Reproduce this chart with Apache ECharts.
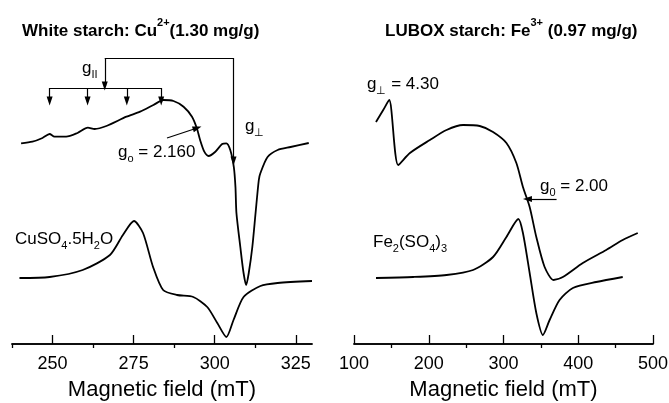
<!DOCTYPE html>
<html><head><meta charset="utf-8">
<script src="https://cdn.jsdelivr.net/npm/echarts@6/dist/echarts.min.js"></script>
<style>html,body{margin:0;padding:0;background:#fff}#c{width:669px;height:403px}</style>
</head><body><div id="c"></div>
<script>
// Left panel: White starch Cu2+ (field in mT, signal in arbitrary units)
const cuStarchField = [240.3,243.8,246.9,249.1,250.6,254.2,257.7,260.9,263.0,266.6,272.8,277.0,281.1,284.2,287.3,290.4,293.0,294.5,295.5,296.8,298.1,300.2,302.3,303.6,304.8,305.9,306.4,306.7,307.9,308.9,309.7,310.5,311.6,312.6,313.6,314.1,316.3,319.4,323.4,329.0];
const cuStarchSignal = [200.7,202.3,206,210,207.3,207.3,211,216.3,215,218,227.3,232.3,239,244,243,237.3,227.3,215.7,204,192.3,188,192.3,200,200.7,194,177,157,131,97,71,59,71,97,131,164,171,187,194,197,201];
const cuSulfateField = [239.8,249.1,259.3,267.7,271.7,275.1,277.9,281.0,284.1,288.4,293.4,297.7,300.8,303.6,305.8,308.9,314.1,319.4,330.0];
const cuSulfateSignal = [66,67,74,89,109,123,111,77,54,49,47,37,21,7,24,47,58,61,63];
// Right panel: LUBOX starch Fe3+
const feStarchField = [129.4,139.1,147.1,159.1,174.8,201.5,223.8,245.9,268.2,286.0,303.9,317.2,326.0,335.0,343.9,355.0,367.0,379.4,406.1,437.4,459.5,479.6];
const feStarchSignal = [222,234,244,179,191,204,214,219,218,212,201,181,157,137,107,77,64,67,81,94,104,111];
const feSulfateField = [129.4,179.2,223.8,259.3,286.0,303.9,319.9,326.0,335.0,343.9,352.7,361.7,375.0,392.8,424.0,459.5];
const feSulfateSignal = [66,67,69,74,87,107,125,111,71,31,9,24,44,56,62,67];
// Tick labels
const leftMajorTicks = [250,275,300,325];
const leftMinorTicks = [237.5,262.5,287.5,312.5];
const rightMajorTicks = [100,200,300,400,500];
const rightMinorTicks = [150,250,350,450];

const FONT = '"Liberation Sans", Arial, Helvetica, sans-serif';
const zip = (a,b) => a.map((v,i)=>[v,b[i]]);

// annotation arrows (data coords)
const ln = (x1,y1,x2,y2,arrow) => [{coord:[x1,y1],symbol:'none'},{coord:[x2,y2],symbol:arrow?'triangle':'none',symbolSize:arrow?[6,9]:0}];
const leftMarks = [
  ln(266.1,286,305.8,286,false),
  ln(266.1,286,266.1,258,true),
  ln(305.8,286,305.8,183,true),
  ln(249.1,256,283.5,256,false),
  ln(249.1,256,249.1,243,true),
  ln(260.8,256,260.8,243,true),
  ln(272.9,256,272.9,243,true),
  ln(283.5,256,283.5,243,true),
  ln(285.3,206,294.6,216,true)
];
const rightMarks = [ ln(371,145,332,145,true) ];

function mkX(grid, min, max, vals, len, labels, name){
  return {
    type:'value', gridIndex:grid, min:min, max:max,
    axisLine:{show:true,lineStyle:{color:'#000',width:1.5}},
    axisTick:{show:true,inside:true,length:len,customValues:vals,lineStyle:{color:'#000',width:1.3}},
    axisLabel:{show:labels,customValues:vals,margin:11,color:'#000',fontSize:18,fontFamily:FONT},
    splitLine:{show:false},
    name: name||'', nameLocation:'middle', nameGap:35, nameMoveOverlap:false,
    nameTextStyle:{color:'#000',fontSize:22,fontFamily:FONT}
  };
}
function mkY(grid){
  return {type:'value',gridIndex:grid,min:0,max:300,show:false,splitLine:{show:false}};
}
const lineStyle = {color:'#000',width:1.8};
function ser(x,y,data,marks){
  const s = {type:'line',xAxisIndex:x,yAxisIndex:y,data:data,showSymbol:false,smooth:0.25,lineStyle:lineStyle,silent:true};
  if(marks){ s.markLine = {silent:true,animation:false,label:{show:false},lineStyle:{color:'#000',width:1.2,type:'solid'},data:marks}; }
  return s;
}
const base = {fontSize:17,fontFamily:FONT,fill:'#000',lineHeight:24};
const sub = {fontSize:11,fontFamily:FONT,fill:'#000',lineHeight:11,verticalAlign:'bottom'};
const tb = {fontSize:17,fontWeight:'bold',fontFamily:FONT,fill:'#000',lineHeight:28};
const sup = {fontSize:11,fontWeight:'bold',fontFamily:FONT,fill:'#000',lineHeight:11,verticalAlign:'top'};
function txt(x,y,text,rich){
  return {type:'text',x:x,y:y,silent:true,style:{text:text,rich:rich||{m:base,s:sub},align:'left',verticalAlign:'middle'}};
}

const chart = echarts.init(document.getElementById('c'),null,{renderer:'canvas'});
chart.setOption({
  animation:false,
  backgroundColor:'#fff',
  grid:[{left:12,top:44,width:300,height:300,containLabel:false,outerBoundsMode:'none'},{left:354,top:44,width:299,height:300,containLabel:false,outerBoundsMode:'none'}],
  xAxis:[
    mkX(0,237.5,330,leftMajorTicks,9,true,'Magnetic field (mT)'),
    mkX(0,237.5,330,leftMinorTicks,4,false),
    mkX(1,100,500,rightMajorTicks,9,true,'Magnetic field (mT)'),
    mkX(1,100,500,rightMinorTicks,4,false)
  ],
  yAxis:[mkY(0),mkY(0),mkY(1),mkY(1)],
  series:[
    ser(0,0,zip(cuStarchField,cuStarchSignal),leftMarks),
    ser(0,0,zip(cuSulfateField,cuSulfateSignal)),
    ser(2,2,zip(feStarchField,feStarchSignal),rightMarks),
    ser(2,2,zip(feSulfateField,feSulfateSignal))
  ],
  graphic:[
    txt(22,31,'{b|White starch: Cu}{p|2+}{b|(1.30 mg/g)}',{b:tb,p:sup}),
    txt(385,31,'{b|LUBOX starch: Fe}{p|3+}{b| (0.97 mg/g)}',{b:tb,p:sup}),
    txt(82,68,'{m|g}{s|II}'),
    txt(245,126,'{m|g}{s|\u22A5}'),
    txt(118,152,'{m|g}{s|o}{m| = 2.160}'),
    txt(15,239,'{m|CuSO}{s|4}{m|.5H}{s|2}{m|O}'),
    txt(367,84,'{m|g}{s|\u22A5}{m| = 4.30}'),
    txt(540,186,'{m|g}{s|0}{m| = 2.00}'),
    txt(373,242,'{m|Fe}{s|2}{m|(SO}{s|4}{m|)}{s|3}')
  ]
});
</script></body></html>
